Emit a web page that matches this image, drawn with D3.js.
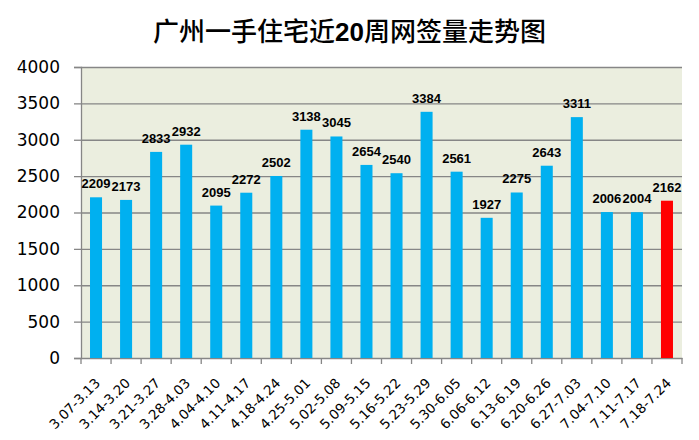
<!DOCTYPE html>
<html><head><meta charset="utf-8">
<script src="https://cdn.jsdelivr.net/npm/d3@7"></script>
<style>body{margin:0;background:#fff}svg{display:block}</style>
</head><body>
<script>
const categories = ["3.07-3.13","3.14-3.20","3.21-3.27","3.28-4.03","4.04-4.10","4.11-4.17","4.18-4.24","4.25-5.01","5.02-5.08","5.09-5.15","5.16-5.22","5.23-5.29","5.30-6.05","6.06-6.12","6.13-6.19","6.20-6.26","6.27-7.03","7.04-7.10","7.11-7.17","7.18-7.24"];
const values = [2209,2173,2833,2932,2095,2272,2502,3138,3045,2654,2540,3384,2561,1927,2275,2643,3311,2006,2004,2162];
const yTicks = [0,500,1000,1500,2000,2500,3000,3500,4000];
const title = ["广州一手住宅近","20","周网签量走势图"];

const W=699,H=440;
const m={left:81,right:17,top:67,bottom:82};
const svg=d3.select("body").append("svg").attr("width",W).attr("height",H);
const x=d3.scaleBand().domain(categories).range([m.left,W-m.right]).paddingInner(0).paddingOuter(0);
const y=d3.scaleLinear().domain([0,4000]).range([H-m.bottom,m.top]);
const grey="#868686";

svg.append("rect").attr("x",m.left).attr("y",m.top).attr("width",W-m.left-m.right).attr("height",H-m.top-m.bottom).attr("fill","#EBEEDF");

// gridlines
svg.append("g").selectAll("line").data(yTicks.filter(d=>d>0)).join("line")
  .attr("x1",m.left).attr("x2",W-m.right).attr("y1",d=>y(d)+0.5).attr("y2",d=>y(d)+0.5)
  .attr("stroke",grey).attr("stroke-width",1.3);

// y axis
const ya=svg.append("g").attr("transform",`translate(${m.left},0)`)
  .call(d3.axisLeft(y).tickValues(yTicks).tickSize(7).tickPadding(14).tickFormat(d3.format("d")));
ya.select(".domain").attr("stroke",grey).attr("stroke-width",1.3);
ya.selectAll(".tick line").attr("stroke",grey).attr("stroke-width",1.3);
ya.selectAll("text").attr("font-family","DejaVu Sans").attr("font-size",17).attr("fill","#000");

// x axis
const xa=svg.append("g").attr("transform",`translate(0,${H-m.bottom})`)
  .call(d3.axisBottom(x).tickSize(0).tickFormat(""));
xa.select(".domain").attr("stroke",grey).attr("stroke-width",1.3);
const bounds=categories.map(c=>x(c)).concat([x(categories[categories.length-1])+x.bandwidth()]);
xa.append("g").selectAll("line").data(bounds).join("line")
  .attr("x1",d=>d).attr("x2",d=>d).attr("y1",0).attr("y2",6).attr("stroke",grey).attr("stroke-width",1.3);

svg.append("g").selectAll("text").data(categories).join("text")
  .attr("transform",d=>`translate(${x(d)+x.bandwidth()/2+5},${H-m.bottom+26}) rotate(-45)`)
  .attr("text-anchor","end").attr("font-family","DejaVu Sans").attr("font-size",13.5).attr("fill","#000")
  .text(d=>d);

// bars
const bw=x.bandwidth()*0.4;
svg.append("g").selectAll("rect").data(values).join("rect")
  .attr("x",(d,i)=>x(categories[i])+(x.bandwidth()-bw)/2)
  .attr("y",d=>y(d)).attr("width",bw).attr("height",d=>y(0)-y(d))
  .attr("fill",(d,i)=>i===values.length-1?"#FF0000":"#00B0F0");

// value labels
svg.append("g").selectAll("text").data(values).join("text")
  .attr("x",(d,i)=>x(categories[i])+x.bandwidth()/2).attr("y",d=>y(d)-9)
  .attr("text-anchor","middle").attr("font-family","Liberation Sans").attr("font-weight","bold")
  .attr("font-size",13).attr("fill","#000").text(d=>d);

// title
const t=svg.append("text").attr("x",W/2).attr("y",41).attr("text-anchor","middle")
  .attr("font-family","Noto Sans CJK SC").attr("font-size",26).attr("font-weight",500).attr("fill","#000");
t.append("tspan").text(title[0]);
t.append("tspan").attr("font-weight","bold").attr("font-family","Liberation Sans").text(title[1]);
t.append("tspan").text(title[2]);
</script>
</body></html>
